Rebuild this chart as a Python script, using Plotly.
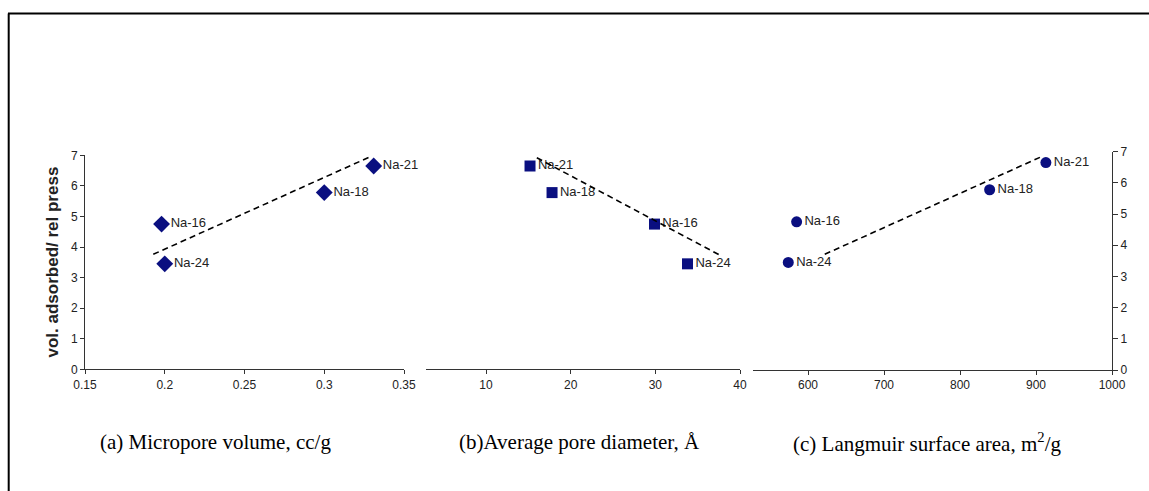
import plotly.graph_objects as go

W, H = 1149, 491

# ---------------- data ----------------
samples = ["Na-16", "Na-18", "Na-21", "Na-24"]
vol_ads = [4.75, 5.78, 6.65, 3.45]            # vol. adsorbed / rel press
micropore_vol = [0.198, 0.300, 0.331, 0.200]  # cc/g
pore_diam = [29.9, 17.8, 15.2, 33.8]          # Angstrom
langmuir_sa = [585, 839, 913, 574]            # m2/g

trend_a_x = [0.1928, 0.3287]
trend_a_y = [3.76, 6.95]
trend_b_x = [16.0, 37.65]
trend_b_y = [6.92, 3.73]
trend_c_x = [622, 909]
trend_c_y = [3.71, 6.86]

ticks_a = [0.15, 0.2, 0.25, 0.3, 0.35]
ticks_b = [10, 20, 30, 40]
ticks_c = [600, 700, 800, 900, 1000]
ticks_y = [0, 1, 2, 3, 4, 5, 6, 7]

captions = ["(a) Micropore volume, cc/g",
            "(b)Average pore diameter, Å",
            "(c) Langmuir surface area, m<sup>2</sup>/g"]
y_title = "vol. adsorbed/ rel press"

# ---------------- helpers ----------------
def px_x(p):
    return p / W

def px_y(p):
    return (H - p) / H

NAVY = "#0a0f80"
AX = "#333333"
TICKFONT = dict(family="Liberation Sans, Arial", size=12, color="#222222")
LBLFONT = dict(family="Liberation Sans, Arial", size=13, color="#222222")

fig = go.Figure()

panels = [
    (micropore_vol, "diamond", 13, trend_a_x, trend_a_y, "x", "y"),
    (pore_diam, "square", 11, trend_b_x, trend_b_y, "x2", "y2"),
    (langmuir_sa, "circle", 11, trend_c_x, trend_c_y, "x3", "y3"),
]
for xs, sym, sz, tx, ty, xa, ya in panels:
    fig.add_trace(go.Scatter(
        x=xs, y=vol_ads, mode="markers+text", text=samples,
        textposition="middle right", textfont=LBLFONT,
        marker=dict(symbol=sym, size=sz, color=NAVY, line=dict(width=0)),
        xaxis=xa, yaxis=ya, showlegend=False, cliponaxis=False))
    fig.add_trace(go.Scatter(
        x=tx, y=ty, mode="lines",
        line=dict(color="black", width=1.6, dash="6px,4px"),
        xaxis=xa, yaxis=ya, showlegend=False, cliponaxis=False))

common_x = dict(showgrid=False, zeroline=False, showline=True, linecolor=AX,
                linewidth=1, ticks="outside", ticklen=4, tickcolor=AX,
                tickfont=TICKFONT, automargin=False)
common_y = dict(showgrid=False, zeroline=False, range=[0, 7], tickvals=ticks_y,
                tickfont=TICKFONT, automargin=False)

dom_a_y = [px_y(369.3), px_y(155.3)]
dom_c_y = [px_y(370.0), px_y(151.7)]

fig.update_layout(
    template="none",
    width=W, height=H, autosize=False,
    margin=dict(l=0, r=0, t=0, b=0, pad=0),
    paper_bgcolor="white", plot_bgcolor="rgba(0,0,0,0)",
    xaxis=dict(domain=[px_x(85), px_x(404)], range=[0.15, 0.35],
               tickvals=ticks_a, anchor="y", **common_x),
    yaxis=dict(domain=dom_a_y, anchor="x", showline=True, linecolor=AX,
               linewidth=1, ticks="outside", ticklen=4, tickcolor=AX,
               **common_y),
    xaxis2=dict(domain=[px_x(426), px_x(740)], range=[2.914, 40],
                tickvals=ticks_b, anchor="y2", **common_x),
    yaxis2=dict(domain=dom_a_y, anchor="x2", visible=False, range=[0, 7],
                automargin=False),
    xaxis3=dict(domain=[px_x(753), px_x(1112)], range=[527.6, 1000],
                tickvals=ticks_c, anchor="y3", **common_x),
    yaxis3=dict(domain=dom_c_y, anchor="x3", side="right", showline=True,
                linecolor=AX, linewidth=1, ticks="outside", ticklen=5,
                tickcolor=AX, **common_y),
)

# y-axis title
fig.add_annotation(text="<b>" + y_title + "</b>", xref="paper", yref="paper",
                   x=px_x(52), y=px_y(262.5), textangle=-90,
                   showarrow=False, xanchor="center", yanchor="middle",
                   font=dict(family="Liberation Sans, Arial", size=17,
                             color="#222222"))

# captions
cap_x = [98, 457, 791]
for cx, txt in zip(cap_x, captions):
    fig.add_annotation(text=txt, xref="paper", yref="paper",
                       x=px_x(cx), y=px_y(442), xanchor="left",
                       yanchor="middle", showarrow=False,
                       font=dict(family="Liberation Serif, Times New Roman",
                                 size=21, color="black"))

# outer frame (top and left edges visible)
fig.add_shape(type="line", xref="paper", yref="paper",
              x0=px_x(8), x1=1.0, y0=px_y(13.5), y1=px_y(13.5),
              line=dict(color="black", width=2))
fig.add_shape(type="line", xref="paper", yref="paper",
              x0=px_x(8.7), x1=px_x(8.7), y0=0, y1=px_y(13.5),
              line=dict(color="black", width=2))

fig.write_html("out.html", config={"displayModeBar": False},
               post_script="document.body.style.margin='0';"
                           "document.body.style.overflow='hidden';")
